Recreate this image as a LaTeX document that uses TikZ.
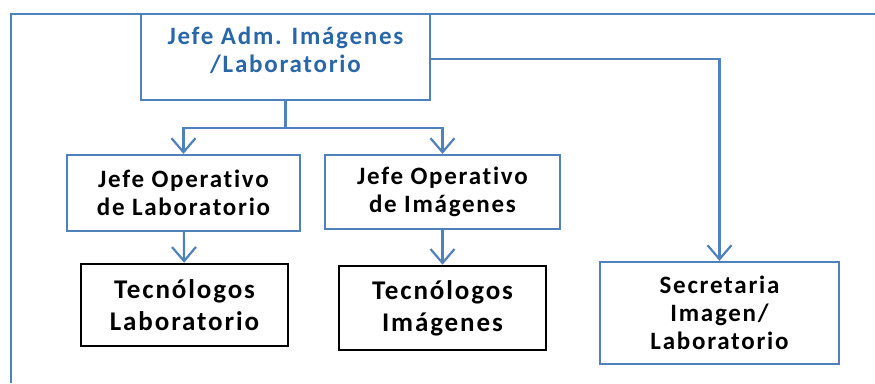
\documentclass[tikz,border=0pt]{standalone}
\usepackage{fontspec}
\setmainfont{Carlito}
\newfontfamily\orgfont[LetterSpace=7, Ligatures=NoCommon]{Carlito}
\usetikzlibrary{arrows.meta}
\definecolor{lineblue}{HTML}{4F81BD}
\definecolor{textblue}{HTML}{2A67A8}

\begin{document}
\begin{tikzpicture}[x=1pt,y=-1pt]
\tikzstyle{every node}+=[inner sep=0pt, align=center]
\tikzstyle{bluebox}=[draw=lineblue, line width=2.2pt]
\tikzstyle{blackbox}=[draw=black, line width=2.6pt]
\tikzstyle{link}=[draw=lineblue, line width=2.2pt]
\tikzstyle{down}=[-{Straight Barb[length=14pt, width=24pt]}]
\tikzstyle{jefetext}=[font=\orgfont\bfseries\fontsize{25}{28}\selectfont]
\tikzstyle{tectext}=[font=\orgfont\bfseries\fontsize{27}{32}\selectfont]
\useasboundingbox (0,0) rectangle (875,383);
% outer frame
\draw[link] (11,383) -- (11,14) -- (875,14);
% boxes
\node[bluebox, minimum width=289, minimum height=86] (adm) at (285.5,57) {};
\node[jefetext, text=textblue] (admtxt) at (285.5,50) {Jefe Adm. Imágenes\\/Laboratorio};
\node[bluebox, jefetext, minimum width=233, minimum height=76] (oplab) at (183.5,193) {Jefe Operativo\\de Laboratorio};
\node[bluebox, jefetext, minimum width=235, minimum height=74] (opimg) at (442.5,192) {Jefe Operativo\\de Imágenes};
\node[blackbox, tectext, minimum width=207, minimum height=82] (teclab) at (184.5,305) {Tecnólogos\\Laboratorio};
\node[blackbox, tectext, minimum width=207, minimum height=84] (tecimg) at (442.5,308) {Tecnólogos\\Imágenes};
\node[bluebox, jefetext, minimum width=239, minimum height=102] (secre) at (719.5,313) {Secretaria\\Imagen/\\Laboratorio};
% connectors
\draw[link] (adm.south) -- ++(0,27) coordinate (split);
\draw[link, down] (split) -| (oplab.north);
\draw[link, down] (split) -| (opimg.north);
\draw[link, down] ([yshift=-2]adm.east) -| (secre.north);
\draw[link, down] (oplab) -- (teclab);
\draw[link, down] (opimg) -- (tecimg);
\end{tikzpicture}
\end{document}
